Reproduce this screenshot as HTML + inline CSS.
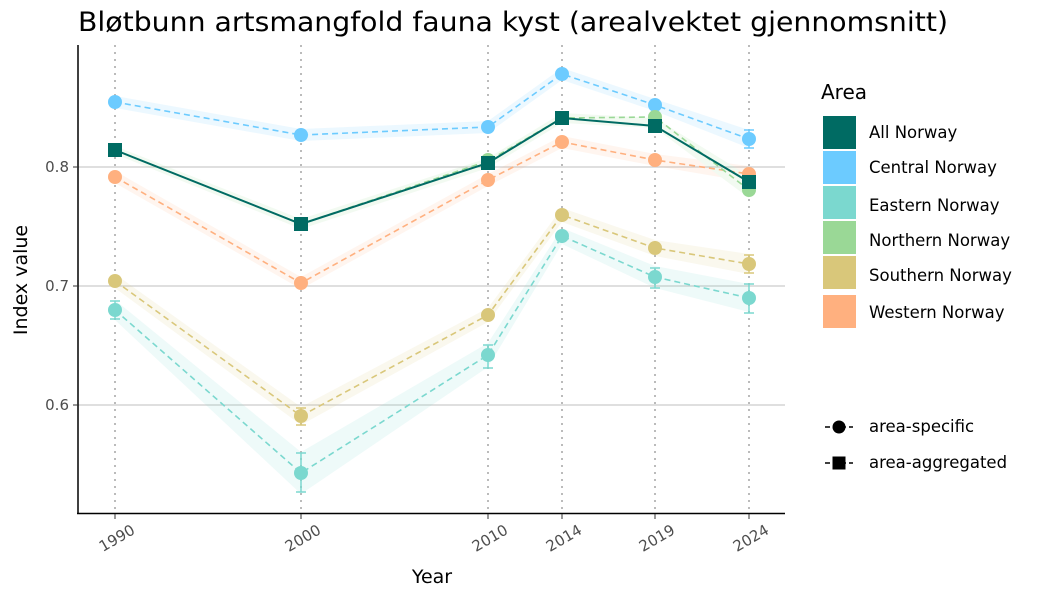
<!DOCTYPE html>
<html><head><meta charset="utf-8"><style>body{margin:0;background:#fff}svg{font-family:"DejaVu Sans","Liberation Sans",sans-serif}</style></head><body>
<svg width="1050" height="600" xmlns="http://www.w3.org/2000/svg">
<text x="78" y="31" font-size="27" fill="#000" textLength="870" lengthAdjust="spacingAndGlyphs">Bløtbunn artsmangfold fauna kyst (arealvektet gjennomsnitt)</text>
<g stroke="#ccc" stroke-width="1.3"><line x1="78" x2="785" y1="167" y2="167"/><line x1="78" x2="785" y1="286" y2="286"/><line x1="78" x2="785" y1="405" y2="405"/></g>
<g stroke="#bbb" stroke-width="2" stroke-dasharray="2,5"><line x1="115" x2="115" y1="45" y2="513"/><line x1="301" x2="301" y1="45" y2="513"/><line x1="488" x2="488" y1="45" y2="513"/><line x1="562" x2="562" y1="45" y2="513"/><line x1="655" x2="655" y1="45" y2="513"/><line x1="749" x2="749" y1="45" y2="513"/></g>
<g opacity="0.12">
<polygon fill="#6CCBFF" points="115,96 301,129 488,121 562,68 655,99 749,130 749,148 655,111 562,80 488,133 301,141 115,108"/>
<polygon fill="#FFB07F" points="115,171 301,277 488,174 562,136 655,154 749,166 749,182 655,166 562,148 488,186 301,289 115,183"/>
<polygon fill="#D9C77A" points="115,274 301,407 488,308 562,208 655,240 749,254 749,274 655,256 562,222 488,322 301,425 115,288"/>
<polygon fill="#7BD8CF" points="115,300 301,452 488,343 562,228 655,266 749,284 749,312 655,288 562,244 488,367 301,494 115,320"/>
<polygon fill="#9AD896" points="115,146 301,219 488,158 562,113 655,118 749,176 749,198 655,128 562,123 488,168 301,229 115,154"/>
</g>
<g fill="none" stroke-width="1.6" stroke-dasharray="6,4">
<polyline stroke="#6CCBFF" points="115,102 301,135 488,127 562,74 655,105 749,139"/>
<polyline stroke="#FFB07F" points="115,177 301,283 488,180 562,142 655,160 749,174"/>
<polyline stroke="#D9C77A" points="115,281 301,416 488,315 562,215 655,248 749,264"/>
<polyline stroke="#7BD8CF" points="115,310 301,473 488,355 562,236 655,277 749,298"/>
<polyline stroke="#9AD896" points="115,150 301,224 488,161 562,118 655,117 749,190"/>
</g>
<polyline fill="none" stroke="#006B63" stroke-width="2" points="115,150 301,224 488,163 562,118 655,126 749,182"/>
<g stroke-width="1.5" fill="none">
<path stroke="#7BD8CF" d="M301,453V492M296,453H306M296,492H306M488,345V368M483,345H493M483,368H493M749,284V313M744,284H754M744,313H754M115,301V319M110,301H120M110,319H120M655,268V288M650,268H660M650,288H660"/>
<path stroke="#D9C77A" d="M301,408V425M296,408H306M296,425H306M749,255V273M744,255H754M744,273H754"/>
<path stroke="#6CCBFF" d="M749,130V148M744,130H754M744,148H754"/>
</g>
<g>
<g fill="#6CCBFF"><circle cx="115" cy="102" r="7"/><circle cx="301" cy="135" r="7"/><circle cx="488" cy="127" r="7"/><circle cx="562" cy="74" r="7"/><circle cx="655" cy="105" r="7"/><circle cx="749" cy="139" r="7"/></g>
<g fill="#FFB07F"><circle cx="115" cy="177" r="7"/><circle cx="301" cy="283" r="7"/><circle cx="488" cy="180" r="7"/><circle cx="562" cy="142" r="7"/><circle cx="655" cy="160" r="7"/><circle cx="749" cy="174" r="7"/></g>
<g fill="#D9C77A"><circle cx="115" cy="281" r="7"/><circle cx="301" cy="416" r="7"/><circle cx="488" cy="315" r="7"/><circle cx="562" cy="215" r="7"/><circle cx="655" cy="248" r="7"/><circle cx="749" cy="264" r="7"/></g>
<g fill="#7BD8CF"><circle cx="115" cy="310" r="7"/><circle cx="301" cy="473" r="7"/><circle cx="488" cy="355" r="7"/><circle cx="562" cy="236" r="7"/><circle cx="655" cy="277" r="7"/><circle cx="749" cy="298" r="7"/></g>
<g fill="#9AD896"><circle cx="488" cy="160" r="7"/><circle cx="562" cy="118" r="7"/><circle cx="655" cy="117" r="7"/><circle cx="749" cy="190" r="7"/></g>
<g fill="#006B63"><rect x="108" y="143" width="14" height="14"/><rect x="294" y="217" width="14" height="14"/><rect x="481" y="156" width="14" height="14"/><rect x="555" y="111" width="14" height="14"/><rect x="648" y="119" width="14" height="14"/><rect x="742" y="175" width="14" height="14"/></g>
</g>
<line x1="78" x2="78" y1="45" y2="514" stroke="#000" stroke-width="1.5"/>
<line x1="77" x2="785" y1="513.5" y2="513.5" stroke="#000" stroke-width="1.5"/>
<g stroke="#333"><line x1="73" x2="78" y1="167" y2="167"/><line x1="73" x2="78" y1="286" y2="286"/><line x1="73" x2="78" y1="405" y2="405"/>
<line x1="115" x2="115" y1="514" y2="519"/><line x1="301" x2="301" y1="514" y2="519"/><line x1="488" x2="488" y1="514" y2="519"/><line x1="562" x2="562" y1="514" y2="519"/><line x1="655" x2="655" y1="514" y2="519"/><line x1="749" x2="749" y1="514" y2="519"/></g>
<g font-size="15" fill="#4d4d4d" text-anchor="end"><text x="69" y="172">0.8</text><text x="69" y="291">0.7</text><text x="69" y="410">0.6</text></g>
<g font-size="15" fill="#4d4d4d" text-anchor="end">
<text transform="translate(136,533) rotate(-30)">1990</text><text transform="translate(322,533) rotate(-30)">2000</text><text transform="translate(509,533) rotate(-30)">2010</text><text transform="translate(583,533) rotate(-30)">2014</text><text transform="translate(676,533) rotate(-30)">2019</text><text transform="translate(770,533) rotate(-30)">2024</text></g>
<text x="432" y="583" font-size="19" text-anchor="middle">Year</text>
<text transform="translate(27,280) rotate(-90)" font-size="19" text-anchor="middle">Index value</text>
<text x="821" y="99" font-size="20">Area</text>
<g font-size="16.5">
<rect x="823" y="116" width="33" height="33" fill="#006B63"/><text x="869" y="138">All Norway</text>
<rect x="823" y="151" width="33" height="33" fill="#6CCBFF"/><text x="869" y="173">Central Norway</text>
<rect x="823" y="186" width="33" height="33" fill="#7BD8CF"/><text x="869" y="211">Eastern Norway</text>
<rect x="823" y="221" width="33" height="33" fill="#9AD896"/><text x="869" y="246">Northern Norway</text>
<rect x="823" y="256" width="33" height="33" fill="#D9C77A"/><text x="869" y="281">Southern Norway</text>
<rect x="823" y="295" width="33" height="33" fill="#FFB07F"/><text x="869" y="318">Western Norway</text>
<line x1="825" x2="853" y1="427" y2="427" stroke="#000" stroke-width="1.5" stroke-dasharray="5,3"/><circle cx="839" cy="427" r="6.5"/><text x="869" y="432">area-specific</text>
<line x1="825" x2="853" y1="463" y2="463" stroke="#000" stroke-width="1.5" stroke-dasharray="5,3"/><rect x="832.5" y="456.5" width="13" height="13"/><text x="869" y="468">area-aggregated</text>
</g>
</svg>
</body></html>
